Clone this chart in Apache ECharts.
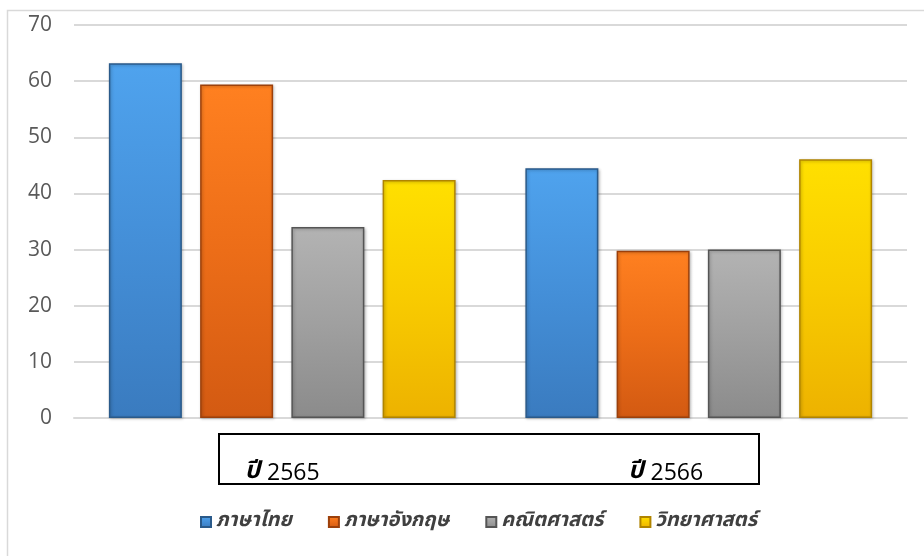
<!DOCTYPE html>
<html>
<head>
<meta charset="utf-8">
<script src="https://cdn.jsdelivr.net/npm/echarts@6/dist/echarts.min.js"></script>
<style>
html,body{margin:0;padding:0;background:#fff;}
#c{width:924px;height:556px;}
</style>
</head>
<body>
<div id="c"></div>
<script>
const categories = ['2565', '2566'];
const seriesNames = ['ภาษาไทย', 'ภาษาอังกฤษ', 'คณิตศาสตร์', 'วิทยาศาสตร์'];
const thai = [63.2, 44.5];
const english = [59.4, 29.8];
const math = [34.0, 30.0];
const science = [42.4, 46.1];
const yTicks = [0, 10, 20, 30, 40, 50, 60, 70];

const values = [thai, english, math, science];
const palettes = [
  { top: '#4fa3ee', mid: '#448fd8', bottom: '#3a7bbf', border: '#2a5a8a' },
  { top: '#ff8020', mid: '#ec6d18', bottom: '#d35a12', border: '#9c400b' },
  { top: '#b3b3b3', mid: '#a0a0a0', bottom: '#8b8b8b', border: '#555555' },
  { top: '#ffe000', mid: '#f8cb00', bottom: '#edb200', border: '#b08400' }
];

function grad(p) {
  return new echarts.graphic.LinearGradient(0, 0, 0, 1, [
    { offset: 0, color: p.top },
    { offset: 0.5, color: p.mid },
    { offset: 1, color: p.bottom }
  ]);
}

const chart = echarts.init(document.getElementById('c'));
const thaiFont = '"Noto Sans Thai", "Noto Sans", "DejaVu Sans", sans-serif';

chart.setOption({
  animation: false,
  backgroundColor: '#fff',
  grid: { left: 74, right: 17, top: 25, bottom: 138 },
  legend: {
    data: seriesNames,
    top: 507,
    left: 195,
    itemWidth: 10,
    itemHeight: 10,
    itemGap: 36,
    icon: 'rect',
    textStyle: { fontFamily: thaiFont, fontSize: 20, fontWeight: 'bold', fontStyle: 'italic', color: '#404040' }
  },
  xAxis: {
    type: 'category',
    data: categories,
    axisLine: { show: true, lineStyle: { color: '#d9d9d9', width: 2 } },
    axisTick: { show: false },
    axisLabel: {
      margin: 43,
      formatter: function (v, i) {
        return '{b|ปี}{s|}{y|' + v + '}' + (i === 1 ? '{p|}' : '');
      },
      rich: {
        b: { fontFamily: thaiFont, fontSize: 24, fontWeight: 'bold', fontStyle: 'italic', color: '#000' },
        s: { width: 7 },
        y: { fontFamily: '"Open Sans", sans-serif', fontSize: 23, color: '#000' },
        p: { width: 66 }
      }
    }
  },
  yAxis: {
    type: 'value',
    min: yTicks[0],
    max: yTicks[yTicks.length - 1],
    interval: 10,
    axisLine: { show: false },
    axisTick: { show: false },
    splitLine: { lineStyle: { color: '#d9d9d9', width: 2 } },
    axisLabel: { margin: 22, fontSize: 21, color: '#595959', fontFamily: '"Open Sans", sans-serif' }
  },
  series: seriesNames.map(function (name, i) {
    return {
      name: name,
      type: 'bar',
      data: values[i],
      barWidth: 73,
      barGap: '25%',
      barCategoryGap: '17%',
      itemStyle: {
        color: grad(palettes[i]),
        borderColor: palettes[i].border,
        borderWidth: 1.5,
        shadowColor: 'rgba(0,0,0,0.25)',
        shadowBlur: 3,
        shadowOffsetX: 1,
        shadowOffsetY: 1
      }
    };
  }),
  graphic: [
    {
      type: 'rect',
      shape: { x: 7.5, y: 10.5, width: 940, height: 560 },
      style: { fill: 'none', stroke: '#d9d9d9', lineWidth: 1.5 },
      silent: true, z: -1
    },
    {
      type: 'rect',
      shape: { x: 219, y: 434, width: 540, height: 50 },
      style: { fill: 'none', stroke: '#000', lineWidth: 2 },
      silent: true
    }
  ]
});
</script>
</body>
</html>
